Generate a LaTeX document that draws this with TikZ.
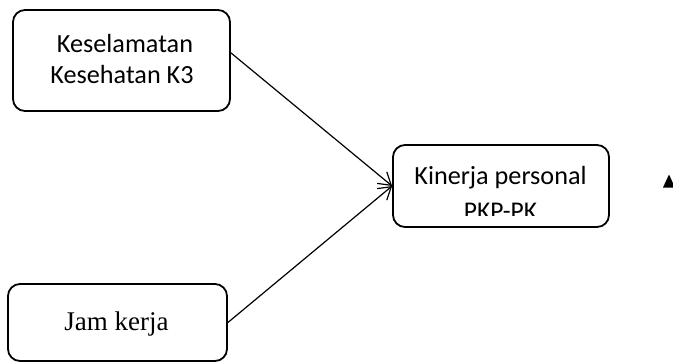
\documentclass[tikz,border=0pt]{standalone}
\usepackage{fontspec}
\setmainfont{Carlito}
\newfontfamily\timesfam{Liberation Serif}
\usetikzlibrary{arrows.meta}
\begin{document}
\begin{tikzpicture}[x=1pt,y=-1pt,
  box/.style={draw, line width=1.8pt, rounded corners=12pt, inner sep=0pt},
  lbl/.style={anchor=base, inner sep=0pt, font=\fontsize{26.2}{30}\selectfont},
  conn/.style={line width=1.2pt, -{Straight Barb[length=12pt,width=15pt,line width=1.2pt]}}]
\useasboundingbox (0,0) rectangle (673,362);
% boxes
\node[box, minimum width=217pt, minimum height=101pt] (k3) at (121.5,60.5) {};
\node[box, minimum width=216pt, minimum height=82pt] (kin) at (501,186) {};
\node[box, minimum width=219pt, minimum height=77pt] (jam) at (117.5,322.5) {};
% texts
\node[lbl] (k3a) at (125,52) {Keselamatan};
\node[lbl] (k3b) at (122,83) {Kesehatan K3};
\node[lbl] (kina) at (500.5,184) {Kinerja personal};
\begin{scope}
  \clip (400,190) rectangle (600,215.5);
  \node[lbl, font=\fontsize{25.5}{28}\selectfont] (kinb) at (500.5,219) {PKP-PK};
\end{scope}
\node[lbl, font=\fontsize{27}{30}\selectfont\timesfam] (jama) at (116.5,330) {Jam kerja};
% connectors
\draw[conn] (k3.4.5) -- (kin.west);
\draw[conn] (jam.east) -- (kin.west);
% partial triangle at right edge
\fill (663,187.5) -- (669,174.5) -- (675,187.5) -- cycle;
\end{tikzpicture}
\end{document}
